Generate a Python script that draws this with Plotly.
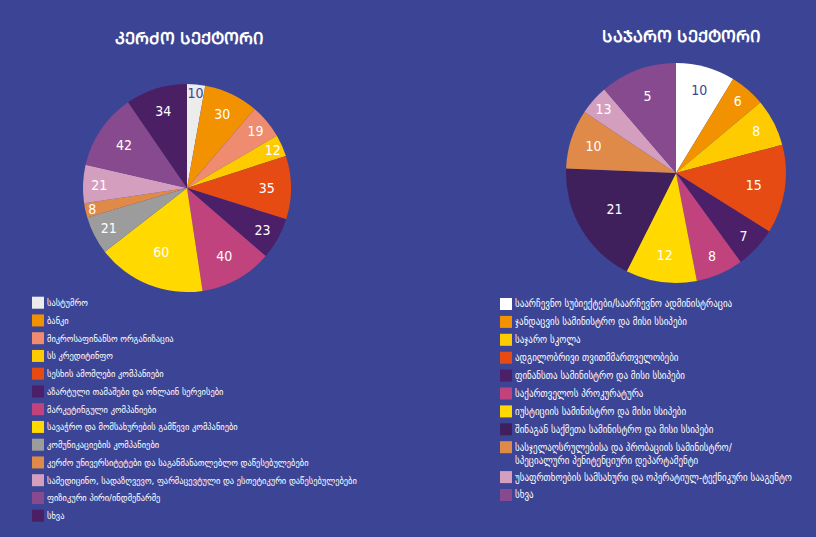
import plotly.graph_objects as go

W, H = 816, 537
bg = "#3c4595"

# კერძო სექტორი
private_labels = ["სასტუმრო", "ბანკი", "მიკროსაფინანსო ორგანიზაცია", "სს კრედიტინფო",
                  "სესხის ამომღები კომპანიები", "აზარტული თამაშები და ონლაინ სერვისები",
                  "მარკეტინგული კომპანიები", "სავაჭრო და მომსახურების გამწევი კომპანიები",
                  "კომუნიკაციების კომპანიები",
                  "კერძო უნივერსიტეტები და საგანმანათლებლო დაწესებულებები",
                  "სამედიცინო, სადაზღვევო, ფარმაცევტული და ესთეტიკური დაწესებულებები",
                  "ფიზიკური პირი/ინდმეწარმე", "სხვა"]
private_values = [10, 30, 19, 12, 35, 23, 40, 60, 21, 8, 21, 42, 34]
private_colors = ["#ececec", "#f39200", "#ef8b6f", "#fecb00", "#e54b12", "#4b2068", "#c1437e",
                  "#ffd900", "#9c9c9c", "#e08a4a", "#d49fbf", "#884a8f", "#4a1f64"]

# საჯარო სექტორი
public_labels = ["საარჩევნო სუბიექტები/საარჩევნო ადმინისტრაცია",
                 "ჯანდაცვის სამინისტრო და მისი სსიპები", "საჯარო სკოლა",
                 "ადგილობრივი თვითმმართველობები", "ფინანსთა სამინისტრო და მისი სსიპები",
                 "საქართველოს პროკურატურა", "იუსტიციის სამინისტრო და მისი სსიპები",
                 "შინაგან საქმეთა სამინისტრო და მისი სსიპები",
                 "სასჯელაღსრულებისა და პრობაციის სამინისტრო/<br>სპეციალური პენიტენციური დეპარტამენტი",
                 "უსაფრთხოების სამსახური და ოპერატიულ-ტექნიკური სააგენტო", "სხვა"]
public_values = [10, 6, 8, 15, 7, 8, 12, 21, 10, 5, 13]
# numbers printed on the slices (last two appear swapped in the source)
public_text = ["10", "6", "8", "15", "7", "8", "12", "21", "10", "13", "5"]
public_colors = ["#ffffff", "#f39200", "#fecb00", "#e54b12", "#4b2068", "#c1437e",
                 "#ffd900", "#3f1f5c", "#e08a4a", "#d49fbf", "#884a8f"]

cond = "DejaVu Sans Condensed, DejaVu Sans"

fig = go.Figure()

fig.add_trace(go.Pie(
    labels=private_labels, values=private_values,
    text=[str(v) for v in private_values], textinfo="text",
    textposition="inside", insidetextorientation="horizontal",
    textfont=dict(color=[bg] + ["white"] * 12, size=14, family=cond),
    marker=dict(colors=private_colors, line=dict(width=0)),
    sort=False, direction="clockwise", rotation=0,
    domain=dict(x=[0.1017, 0.3566], y=[0.456, 0.8436]),
    hoverinfo="label+value",
))

fig.add_trace(go.Pie(
    labels=public_labels, values=public_values,
    text=public_text, textinfo="text",
    textposition="inside", insidetextorientation="horizontal",
    textfont=dict(color=[bg] + ["white"] * 10, size=14, family=cond),
    marker=dict(colors=public_colors, line=dict(width=0)),
    sort=False, direction="clockwise", rotation=0,
    domain=dict(x=[0.6936, 0.9632], y=[0.473, 0.8827]),
    hoverinfo="label+value",
))

# titles
fig.add_annotation(text="<b>ᲙᲔᲠᲫᲝ ᲡᲔᲥᲢᲝᲠᲘ</b>", x=189 / W, y=1 - 39 / H,
                   xref="paper", yref="paper", xanchor="center", yanchor="middle",
                   showarrow=False, font=dict(size=16.5, color="white", family=cond))
fig.add_annotation(text="<b>ᲡᲐᲯᲐᲠᲝ ᲡᲔᲥᲢᲝᲠᲘ</b>", x=681 / W, y=1 - 36 / H,
                   xref="paper", yref="paper", xanchor="center", yanchor="middle",
                   showarrow=False, font=dict(size=16.5, color="white", family=cond))


# hand-made legends (square + text), one per pie
def add_legend(labels, colors, x_px, y0_px, step, size, extra_after=None):
    y = y0_px
    for i, (lab, col) in enumerate(zip(labels, colors)):
        fig.add_shape(type="rect", xref="paper", yref="paper",
                      x0=x_px / W, x1=(x_px + 12) / W,
                      y0=1 - (y - 6) / H, y1=1 - (y + 6) / H,
                      fillcolor=col, line=dict(width=0))
        fig.add_annotation(text=lab, x=(x_px + 13) / W, y=1 - (y - 7.5) / H,
                           xref="paper", yref="paper", xanchor="left", yanchor="top",
                           align="left", showarrow=False,
                           font=dict(size=size, color="white", family=cond))
        y += step
        if "<br>" in lab:
            y += extra_after


add_legend(private_labels, private_colors, 32, 302.7, 17.75, 9.4, 0)
add_legend(public_labels, public_colors, 500, 304, 17.9, 10, 12)

fig.update_layout(
    width=W, height=H,
    margin=dict(l=0, r=0, t=0, b=0),
    paper_bgcolor=bg, plot_bgcolor=bg,
    uniformtext=dict(minsize=14, mode="show"),
    showlegend=False,
)

fig.write_html("out.html", config={"displayModeBar": False},
               post_script="document.body.style.margin='0';document.body.style.overflow='hidden';")
